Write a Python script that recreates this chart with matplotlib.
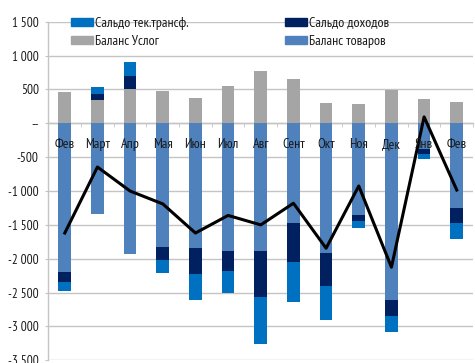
import matplotlib
matplotlib.use("Agg")
import matplotlib.pyplot as plt
from matplotlib.patches import Patch
from matplotlib.ticker import FixedLocator, FuncFormatter
import numpy as np

months = ['Фев', 'Март', 'Апр', 'Мая', 'Июн', 'Июл', 'Авг', 'Сент', 'Окт', 'Ноя', 'Дек', 'Янв', 'Фев']
services = [465, 345, 500, 480, 378, 545, 780, 650, 300, 290, 490, 355, 310]
goods = [-2190, -1340, -1925, -1825, -1845, -1880, -1890, -1470, -1910, -1350, -2605, -380, -1245]
income = [-147, 88, 197, -192, -383, -300, -679, -575, -492, -98, -236, -69, -226]
transfers = [-142, 103, 206, -197, -384, -319, -688, -594, -497, -94, -241, -83, -240]
current_account = [-1620, -645, -1000, -1190, -1620, -1360, -1500, -1180, -1845, -925, -2125, 95, -985]

yticks = [1500, 1000, 500, 0, -500, -1000, -1500, -2000, -2500, -3000, -3500]

C_GOODS = '#4F81BD'
C_SERV = '#A5A5A5'
C_INC = '#002060'
C_TR = '#0070C0'
C_GRID = '#C4C4C4'
C_TEXT = '#1A1A1A'

plt.rcParams['font.family'] = ['PT Sans Narrow', 'Roboto Condensed', 'DejaVu Sans']

fig = plt.figure(figsize=(4.75, 3.63), dpi=100)
ax = fig.add_axes([0.102, 0.0074, 0.894, 0.9326])

x = np.arange(len(months))
w = 0.39

# stacked columns: positive parts stack up from zero, negative parts stack down
pos = np.zeros(len(x))
neg = np.zeros(len(x))


def stack(vals, color):
    global pos, neg
    vals = np.asarray(vals, float)
    bottoms = np.where(vals >= 0, pos, neg)
    ax.bar(x, vals, w, bottom=bottoms, color=color, zorder=2, linewidth=0)
    pos = pos + np.where(vals >= 0, vals, 0)
    neg = neg + np.where(vals < 0, vals, 0)


stack(goods, C_GOODS)
stack(services, C_SERV)
stack(income, C_INC)
stack(transfers, C_TR)

ax.plot(x, current_account, color='black', lw=2.2, zorder=4)

ax.set_xlim(-0.5, len(x) - 0.5)
ax.set_ylim(-3500, 1500)

ax.yaxis.set_major_locator(FixedLocator(yticks))


def fmt(v, _):
    if v == 0:
        return '--'
    s = f"{abs(int(v)):,}".replace(',', ' ')
    return ('-' if v < 0 else '') + s


ax.yaxis.set_major_formatter(FuncFormatter(fmt))
ax.grid(axis='y', color=C_GRID, lw=1.0, zorder=0)
ax.set_axisbelow(True)

for s in ['top', 'right']:
    ax.spines[s].set_visible(False)
ax.spines['left'].set_color(C_GRID)
ax.spines['left'].set_linewidth(1.0)
ax.spines['bottom'].set_position(('data', 0))
ax.spines['bottom'].set_color(C_GRID)
ax.spines['bottom'].set_linewidth(1.0)
ax.spines['bottom'].set_zorder(1)

ax.tick_params(axis='y', length=2.5, color=C_GRID, labelsize=9.5, pad=4.5, labelcolor=C_TEXT)

# category boundaries get the tick marks; month names sit just under the zero line, over the bars
ax.set_xticks(x)
ax.set_xticklabels([])
ax.tick_params(axis='x', which='major', length=0)
ax.set_xticks(np.arange(-0.5, len(x) + 0.5, 1), minor=True)
ax.tick_params(axis='x', which='minor', length=3, color=C_GRID, direction='out')
for xi, name in zip(x, months):
    ax.annotate(name, xy=(xi, 0), xytext=(0, -15.5), textcoords='offset points',
                ha='center', va='center', fontsize=10, color=C_TEXT, zorder=5)

h1 = [Patch(color=C_TR), Patch(color=C_SERV)]
l1 = ['Сальдо тек.трансф.', 'Баланс Услог']
h2 = [Patch(color=C_INC), Patch(color=C_GOODS)]
l2 = ['Сальдо доходов', 'Баланс товаров']
common = dict(frameon=False, fontsize=10, handlelength=1.6, handleheight=0.52,
              handletextpad=0.15, labelspacing=0.38, borderpad=0, borderaxespad=0,
              loc='upper left', labelcolor=C_TEXT)
leg1 = fig.legend(h1, l1, bbox_to_anchor=(71 / 475, 1 - 16.5 / 363), **common)
leg2 = fig.legend(h2, l2, bbox_to_anchor=(285 / 475, 1 - 16.5 / 363), **common)

fig.savefig('out.png', dpi=100)
